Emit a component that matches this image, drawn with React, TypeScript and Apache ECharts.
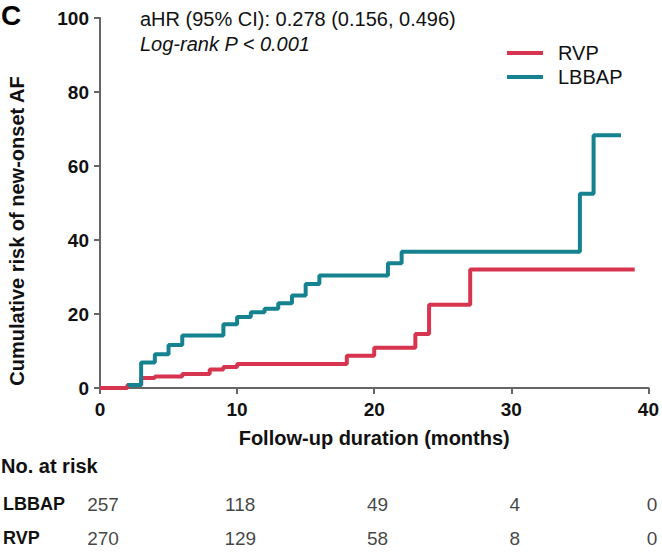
import React, { useEffect, useRef } from "react";
import * as echarts from "echarts";

const FONT = "Liberation Sans, Arial, Helvetica, sans-serif";
const RED = "#d7354f";
const TEAL = "#15838f";

const xTicks = [0, 10, 20, 30, 40];
const yTicks = [0, 20, 40, 60, 80, 100];

// Kaplan-Meier cumulative incidence steps [month, %]
const rvpCurve: [number, number][] = [
  [0, 0], [2, 0.8], [3, 2.7], [4, 3.1], [6, 3.8], [8, 5.0], [9, 5.7], [10, 6.5],
  [18, 8.7], [20, 10.9], [23, 14.6], [24, 22.5], [27, 32.0], [39, 32.0],
];
const lbbapCurve: [number, number][] = [
  [2, 0.8], [3, 6.9], [4, 9.1], [5, 11.6], [6, 14.2], [9, 17.2], [10, 19.2],
  [11, 20.5], [12, 21.4], [13, 22.9], [14, 25.0], [15, 28.1], [16, 30.4],
  [21, 33.7], [22, 36.8], [35, 52.5], [36, 68.3], [38, 68.3],
];

const riskGroups = ["LBBAP", "RVP"];
const riskTimes = [0, 10, 20, 30, 40];
const lbbapAtRisk = [257, 118, 49, 4, 0];
const rvpAtRisk = [270, 129, 58, 8, 0];

export default function App() {
  const ref = useRef<HTMLDivElement>(null);
  useEffect(() => {
    document.body.style.margin = "0";
    if (!ref.current) return;
    const chart = echarts.init(ref.current, null, { renderer: "svg" });
    const riskData: any[] = [];
    riskTimes.forEach((t, i) => {
      riskData.push([t, "LBBAP", lbbapAtRisk[i]]);
      riskData.push([t, "RVP", rvpAtRisk[i]]);
    });
    chart.setOption({
      animation: false,
      textStyle: { fontFamily: FONT },
      grid: [
        { left: 100, right: 10, top: 18, bottom: 167, containLabel: false },
        { left: 100, right: 10, top: 487, height: 74, containLabel: false },
      ],
      xAxis: [
        {
          gridIndex: 0,
          type: "value",
          min: xTicks[0],
          max: xTicks[xTicks.length - 1],
          interval: 10,
          name: "Follow-up duration (months)",
          nameLocation: "middle",
          nameGap: 40,
          nameTextStyle: { fontSize: 20, fontWeight: "bold", color: "#111", fontFamily: FONT },
          axisLine: { lineStyle: { color: "#666", width: 2 } },
          axisTick: { length: 6, lineStyle: { color: "#666", width: 2 } },
          axisLabel: { fontSize: 19, fontWeight: "bold", color: "#111", margin: 12, fontFamily: FONT },
          splitLine: { show: false },
        },
        {
          gridIndex: 1,
          type: "value",
          min: xTicks[0],
          max: xTicks[xTicks.length - 1],
          show: false,
        },
      ],
      yAxis: [
        {
          gridIndex: 0,
          type: "value",
          min: yTicks[0],
          max: yTicks[yTicks.length - 1],
          interval: 20,
          axisLine: { show: true, lineStyle: { color: "#666", width: 2 } },
          axisTick: { show: true, length: 6, lineStyle: { color: "#666", width: 2 } },
          axisLabel: { fontSize: 19, fontWeight: "bold", color: "#111", margin: 11, fontFamily: FONT },
          splitLine: { show: false },
        },
        {
          gridIndex: 1,
          type: "category",
          data: riskGroups,
          inverse: true,
          axisLine: { show: false },
          axisTick: { show: false },
          axisLabel: {
            show: true,
            align: "left",
            margin: 100,
            fontSize: 18,
            fontWeight: "bold",
            color: "#111",
            fontFamily: FONT,
          },
        },
      ],
      legend: {
        orient: "vertical",
        left: 502,
        top: 38,
        itemWidth: 36,
        itemHeight: 4,
        itemGap: 4,
        icon: "rect",
        data: ["RVP", "LBBAP"],
        textStyle: { fontSize: 20, color: "#111", fontFamily: FONT, padding: [0, 0, 0, 10] },
      },
      series: [
        {
          name: "RVP",
          type: "line",
          step: "end",
          xAxisIndex: 0,
          yAxisIndex: 0,
          data: rvpCurve,
          showSymbol: false,
          symbol: "none",
          lineStyle: { color: RED, width: 4 },
          itemStyle: { color: RED },
          z: 2,
        },
        {
          name: "LBBAP",
          type: "line",
          step: "end",
          xAxisIndex: 0,
          yAxisIndex: 0,
          data: lbbapCurve,
          showSymbol: false,
          symbol: "none",
          lineStyle: { color: TEAL, width: 4 },
          itemStyle: { color: TEAL },
          z: 3,
        },
        {
          name: "atrisk",
          type: "scatter",
          xAxisIndex: 1,
          yAxisIndex: 1,
          data: riskData,
          symbolSize: 1,
          itemStyle: { color: "rgba(0,0,0,0)" },
          label: {
            show: true,
            position: "inside",
            formatter: (p: any) => String(p.value[2]),
            fontSize: 19,
            color: "#111",
            fontFamily: FONT,
          },
          encode: { x: 0, y: 1 },
        },
      ],
      graphic: [
        {
          type: "text",
          left: 1,
          top: 1,
          style: { text: "C", fontSize: 28, fontWeight: "bold", fill: "#000", fontFamily: FONT },
        },
        {
          type: "text",
          left: 140,
          top: 9,
          style: { text: "aHR (95% CI): 0.278 (0.156, 0.496)", fontSize: 20, fill: "#111", fontFamily: FONT },
        },
        {
          type: "text",
          left: 140,
          top: 34,
          style: { text: "Log-rank P < 0.001", fontSize: 20, fontStyle: "italic", fill: "#111", fontFamily: FONT },
        },
        {
          type: "text",
          x: 17,
          y: 231,
          rotation: Math.PI / 2,
          style: {
            text: "Cumulative risk of new-onset AF",
            fontSize: 20,
            fontWeight: "bold",
            fill: "#111",
            fontFamily: FONT,
            align: "center",
            verticalAlign: "middle",
          },
        },
        {
          type: "text",
          left: 1,
          top: 456,
          style: { text: "No. at risk", fontSize: 20, fontWeight: "bold", fill: "#111", fontFamily: FONT },
        },
      ],
    });
    return () => chart.dispose();
  }, []);
  return <div ref={ref} style={{ width: 662, height: 555 }} />;
}
